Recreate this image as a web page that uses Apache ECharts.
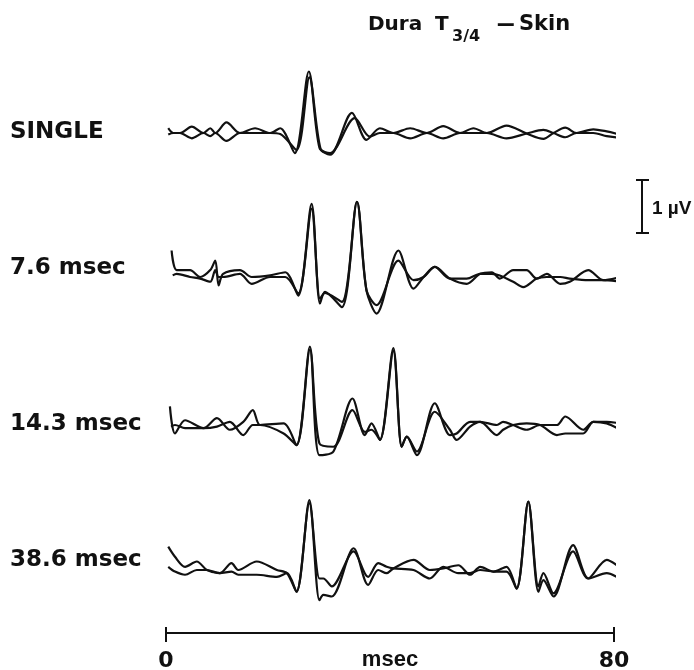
<!DOCTYPE html>
<html>
<head>
<meta charset="utf-8">
<script src="https://cdn.jsdelivr.net/npm/echarts@6/dist/echarts.min.js"></script>
<style>
  html, body { margin: 0; padding: 0; background: #ffffff; }
  #chart { width: 694px; height: 670px; }
</style>
</head>
<body>
<div id="chart"></div>
<script>
// Evoked potentials, Dura T3/4 to skin; two superimposed sweeps per condition.
// Each point is [time (msec), amplitude (µV)].
const rowLabels = ['SINGLE', '7.6 msec', '14.3 msec', '38.6 msec'];

const singleA = [[0.4,0.09],[1.3,0.0],[2.5,0.0],[4.6,0.12],[6.7,0.0],[7.9,0.09],[8.8,0.0],[10.8,0.2],[13.2,0.0],[15.9,0.09],[18.6,0.0],[20.4,0.09],[23.0,-0.38],[25.5,1.16],[27.4,-0.28],[29.3,-0.41],[33.2,0.38],[35.8,-0.13],[38.2,0.09],[40.6,0.0],[43.6,0.09],[46.6,0.0],[49.5,0.13],[52.5,0.0],[54.9,0.09],[57.3,0.0],[60.8,0.14],[64.4,-0.01],[67.4,-0.11],[69.2,0.0],[71.3,0.1],[73.3,0.0],[76.3,0.07],[78.7,0.03],[81.1,-0.03]];
const singleB = [[0.4,-0.03],[1.3,0.0],[2.5,0.0],[4.6,-0.1],[6.7,0.0],[7.9,-0.06],[8.8,0.0],[10.8,-0.15],[13.2,0.0],[15.9,0.0],[18.6,0.0],[20.4,-0.02],[23.3,-0.32],[25.6,1.05],[27.6,-0.3],[29.3,-0.38],[33.7,0.28],[36.4,-0.07],[38.2,0.0],[40.6,0.0],[43.6,-0.1],[46.6,0.0],[49.5,-0.1],[52.5,0.0],[54.9,0.0],[57.3,0.0],[60.8,-0.1],[64.4,-0.01],[67.4,0.06],[69.2,0.0],[71.3,-0.08],[73.3,0.0],[76.3,0.0],[78.7,-0.06],[81.1,-0.09]];

const isi76A = [[1.0,0.5],[1.9,0.13],[4.3,0.13],[6.1,0.0],[7.9,0.13],[8.8,0.31],[9.4,-0.16],[10.2,0.06],[13.2,0.13],[15.3,0.0],[18.6,0.03],[21.3,0.09],[23.6,-0.35],[26.0,1.38],[27.5,-0.5],[28.4,-0.28],[31.4,-0.57],[34.1,1.42],[35.8,-0.25],[37.6,-0.69],[41.5,0.5],[44.2,-0.22],[46.0,0.0],[48.0,0.19],[50.7,-0.03],[53.7,-0.13],[56.1,0.06],[58.2,0.09],[59.6,-0.03],[62.0,0.13],[64.4,0.13],[66.2,-0.03],[68.0,0.06],[70.4,-0.13],[72.1,-0.09],[75.4,0.13],[78.1,-0.06],[81.1,0.0]];
const isi76B = [[1.2,0.03],[1.9,0.06],[4.3,0.0],[6.1,-0.03],[7.9,-0.09],[8.8,0.13],[9.4,0.0],[10.2,0.0],[13.2,0.06],[15.3,-0.13],[18.6,0.0],[21.3,0.0],[23.6,-0.31],[26.0,1.29],[27.5,-0.41],[28.4,-0.3],[31.4,-0.47],[34.1,1.42],[35.8,-0.25],[37.6,-0.53],[41.5,0.31],[44.2,-0.06],[46.0,0.0],[48.0,0.19],[50.7,-0.03],[53.7,-0.03],[56.1,0.06],[58.2,0.06],[59.6,0.03],[62.0,-0.09],[63.8,-0.19],[66.2,-0.03],[68.0,0.0],[70.4,0.0],[72.1,-0.03],[75.4,-0.06],[78.1,-0.06],[81.1,-0.09]];

const isi143A = [[0.7,0.35],[1.6,-0.16],[3.4,0.09],[6.7,-0.06],[9.1,0.13],[11.4,-0.09],[13.8,0.06],[15.5,0.28],[16.8,0.0],[21.0,0.03],[23.3,-0.38],[25.7,1.48],[27.4,-0.57],[29.9,-0.5],[33.3,0.5],[35.5,-0.19],[36.7,0.03],[38.2,-0.28],[40.6,1.45],[42.1,-0.41],[43.0,-0.22],[44.8,-0.57],[48.0,0.41],[50.7,-0.19],[51.9,-0.16],[54.3,0.06],[56.1,0.06],[59.1,-0.19],[60.2,-0.09],[62.0,0.0],[64.4,0.03],[66.8,0.0],[69.8,-0.19],[71.3,-0.16],[74.5,-0.16],[76.3,0.06],[78.7,0.03],[81.1,-0.09]];
const isi143B = [[0.9,-0.03],[1.6,0.0],[3.4,-0.06],[6.7,-0.06],[9.1,-0.03],[11.4,0.06],[13.8,-0.19],[15.5,0.0],[16.8,0.0],[21.0,-0.16],[23.3,-0.38],[25.7,1.42],[27.4,-0.35],[29.9,-0.41],[33.3,0.28],[35.5,-0.13],[36.7,-0.09],[38.2,-0.28],[40.6,1.4],[42.1,-0.41],[43.0,-0.22],[44.8,-0.5],[48.0,0.25],[50.7,-0.09],[51.9,-0.28],[54.3,-0.03],[56.1,0.06],[59.1,0.0],[60.2,0.06],[62.0,0.0],[64.4,-0.09],[66.8,0.0],[69.8,0.0],[71.3,0.16],[74.5,-0.09],[76.3,0.06],[78.7,0.06],[81.1,0.03]];

const isi386A = [[0.4,0.44],[1.6,0.25],[3.4,0.06],[5.5,0.16],[7.3,0.0],[9.6,-0.06],[11.7,0.13],[12.9,0.0],[16.2,0.16],[19.8,0.0],[21.6,-0.06],[23.3,-0.41],[25.6,1.32],[27.4,-0.57],[28.1,-0.47],[29.6,-0.5],[33.5,0.41],[36.1,-0.28],[37.9,0.0],[39.4,-0.06],[40.6,0.03],[44.2,0.19],[47.1,0.0],[49.5,0.03],[52.2,0.09],[54.3,-0.09],[56.1,0.06],[58.5,-0.03],[60.8,0.06],[62.6,-0.35],[64.7,1.29],[66.5,-0.41],[67.4,-0.19],[69.2,-0.5],[72.7,0.47],[75.4,-0.16],[78.7,0.19],[80.5,0.09]];
const isi386B = [[0.4,0.06],[1.6,-0.03],[3.4,-0.09],[5.5,0.0],[7.3,0.0],[9.6,-0.06],[11.7,-0.03],[12.9,-0.09],[16.2,-0.09],[19.8,-0.13],[21.6,-0.06],[23.3,-0.41],[25.6,1.26],[27.4,-0.16],[28.1,-0.16],[29.6,-0.31],[33.5,0.35],[36.1,-0.13],[37.9,0.13],[39.4,0.06],[40.6,0.03],[44.2,0.0],[47.1,-0.16],[49.5,0.06],[52.2,-0.06],[54.3,-0.06],[56.1,0.0],[58.5,-0.03],[60.8,-0.03],[62.6,-0.35],[64.7,1.29],[66.5,-0.31],[67.4,-0.06],[69.2,-0.44],[72.7,0.35],[75.4,-0.16],[78.7,-0.06],[80.5,-0.13]];

const timeTicks = [0, 80];          // msec, ends of the time bar
const timeUnit = 'msec';
const scaleBarValue = 1;            // µV
const titleParts = ['Dura', 'T', '3/4', '-', 'Skin'];

const sweeps = [
  [singleA, singleB],
  [isi76A, isi76B],
  [isi143A, isi143B],
  [isi386A, isi386B]
];

// Layout: pixel row of 0 µV for each trace pair, µV per pixel and plot span.
const zeroY = [133, 277, 425, 570];
const labelY = [132, 268, 424, 560];
const pxPerUV = 53;
const yHalf = 1.5;
const plotLeft = 166, plotWidth = 448;
const ink = '#111111';
const font = 'DejaVu Sans';

const chart = echarts.init(document.getElementById('chart'), null, { renderer: 'canvas' });

const grids = [], xAxes = [], yAxes = [], series = [];
zeroY.forEach((zy, i) => {
  grids.push({ left: plotLeft, width: plotWidth, top: zy - yHalf * pxPerUV, height: 2 * yHalf * pxPerUV,
               containLabel: false, outerBoundsMode: 'none' });
  xAxes.push({ type: 'value', gridIndex: i, min: timeTicks[0], max: timeTicks[1], show: false });
  yAxes.push({ type: 'value', gridIndex: i, min: -yHalf, max: yHalf, show: false });
  sweeps[i].forEach(tr => {
    series.push({
      type: 'line', xAxisIndex: i, yAxisIndex: i, data: tr,
      showSymbol: false, smooth: 0.3, clip: false, silent: true,
      lineStyle: { color: ink, width: 2.2 }
    });
  });
});

// Time bar grid at the bottom: one axis draws the line, labels and lower ticks,
// a second one at the same place adds the upward half of the end ticks.
const tb = grids.length;
grids.push({ left: plotLeft, width: plotWidth, top: 600, height: 33, containLabel: false, outerBoundsMode: 'none' });
xAxes.push({
  type: 'value', gridIndex: tb, min: timeTicks[0], max: timeTicks[1], interval: timeTicks[1] - timeTicks[0],
  position: 'bottom',
  axisLine: { show: true, onZero: false, lineStyle: { color: ink, width: 2 } },
  axisTick: { show: true, length: 9, lineStyle: { color: ink, width: 2 } },
  axisLabel: { show: true, margin: 17, color: ink, fontSize: 22, fontWeight: 'bold', fontFamily: font },
  splitLine: { show: false }
});
xAxes.push({
  type: 'value', gridIndex: tb, min: timeTicks[0], max: timeTicks[1], interval: timeTicks[1] - timeTicks[0],
  position: 'bottom',
  axisLine: { show: false, onZero: false },
  axisTick: { show: true, inside: true, length: 6, lineStyle: { color: ink, width: 2 } },
  axisLabel: { show: false }, splitLine: { show: false }
});
yAxes.push({ type: 'value', gridIndex: tb, min: 0, max: 1, show: false });

const labelGraphics = rowLabels.map((t, i) => ({
  type: 'text', x: 10, y: labelY[i],
  style: { text: t, fill: ink, font: 'bold 23px "' + font + '"', verticalAlign: 'middle' }
}));

// Title pieces: main text, subscript, stretched dash, main text
const titleStyle = [
  { x: 368, y: 25, size: 20, sx: 1 },
  { x: 435, y: 25, size: 20, sx: 1 },
  { x: 452, y: 37, size: 16, sx: 1 },
  { x: 495, y: 25, size: 20, sx: 2.6 },
  { x: 519, y: 25, size: 21, sx: 1 }
];
const titleGraphics = titleParts.map((t, i) => ({
  type: 'text', x: titleStyle[i].x, y: titleStyle[i].y, scaleX: titleStyle[i].sx,
  style: { text: t, fill: ink, font: 'bold ' + titleStyle[i].size + 'px "' + font + '"', verticalAlign: 'middle' }
}));

chart.setOption({
  animation: false,
  backgroundColor: '#ffffff',
  grid: grids, xAxis: xAxes, yAxis: yAxes, series: series
});

// Calibration bar: 1 µV measured on the second trace row's amplitude scale;
// time unit centred under the time bar.
const p0 = chart.convertToPixel({ gridIndex: 1 }, [0, 0]);
const p1 = chart.convertToPixel({ gridIndex: 1 }, [0, scaleBarValue]);
const barLen = Math.abs(p0[1] - p1[1]);
const bx = 642, by = 180;
const tMid = chart.convertToPixel({ xAxisIndex: tb }, (timeTicks[0] + timeTicks[1]) / 2);
chart.setOption({
  graphic: labelGraphics.concat(titleGraphics, [
    { type: 'line', shape: { x1: bx, y1: by, x2: bx, y2: by + barLen }, style: { stroke: ink, lineWidth: 2 } },
    { type: 'line', shape: { x1: bx - 6, y1: by, x2: bx + 7, y2: by }, style: { stroke: ink, lineWidth: 2 } },
    { type: 'line', shape: { x1: bx - 6, y1: by + barLen, x2: bx + 7, y2: by + barLen }, style: { stroke: ink, lineWidth: 2 } },
    { type: 'text', x: 652, y: by + barLen / 2 + 2,
      style: { text: scaleBarValue + ' µV', fill: ink, font: 'bold 19px "Liberation Sans"', verticalAlign: 'middle' } },
    { type: 'text', x: tMid, y: 660,
      style: { text: timeUnit, fill: ink, font: 'bold 22px "Liberation Sans"', align: 'center', verticalAlign: 'middle' } }
  ])
});
</script>
</body>
</html>
